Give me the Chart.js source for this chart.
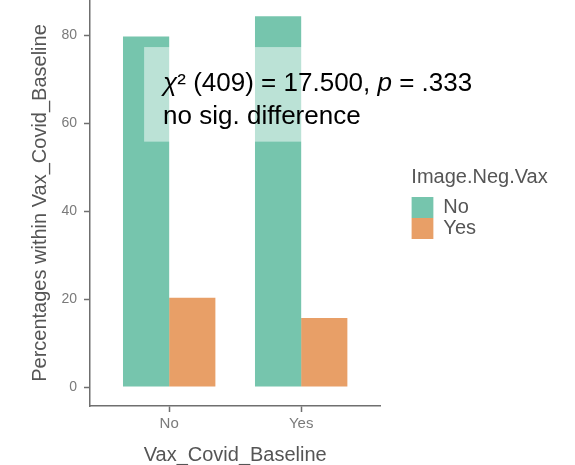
<!DOCTYPE html>
<html>
<head>
<meta charset="utf-8">
<script src="https://cdn.jsdelivr.net/npm/chart.js@4/dist/chart.umd.min.js"></script>
<style>
  html, body { margin: 0; padding: 0; background: #fff; }
  canvas { display: block; }
</style>
</head>
<body>
<canvas id="myChart" width="575" height="465"></canvas>
<script>
const categories = ['No', 'Yes'];
const seriesNames = ['No', 'Yes'];
const noValues = [79.7, 84.3];
const yesValues = [20.3, 15.7];
const yTicks = [0, 20, 40, 60, 80];
const xTitle = 'Vax_Covid_Baseline';
const yTitle = 'Percentages within Vax_Covid_Baseline';
const legendTitle = 'Image.Neg.Vax';
// [text, italic]
const statLine = [['χ', true], ['² (409) = 17.500, ', false], ['p', true], [' = .333', false]];
const noteLine = 'no sig. difference';

const FONT = '"Liberation Sans", Arial, sans-serif';
const AXIS = '#6f6f6f';

function toPoints(vals) {
  return vals.map((v, i) => ({ x: i + 1, y: v }));
}

// lighter box + test result, placed in data units
const annotation = {
  id: 'annotation',
  afterDatasetsDraw(chart) {
    const { ctx, scales: { x, y } } = chart;
    ctx.save();
    const x0 = x.getPixelForValue(0.81), x1 = x.getPixelForValue(2.006);
    const y0 = y.getPixelForValue(77.3), y1 = y.getPixelForValue(55.8);
    ctx.fillStyle = 'rgba(255,255,255,0.5)';
    ctx.fillRect(x0, y0, x1 - x0, y1 - y0);

    ctx.fillStyle = '#000';
    ctx.textBaseline = 'alphabetic';
    ctx.textAlign = 'left';
    const left = x.getPixelForValue(0.954);
    const base = y.getPixelForValue(67.4);
    let tx = left;
    statLine.forEach(([s, it]) => {
      ctx.font = (it ? 'italic ' : '') + '26px ' + FONT;
      ctx.fillText(s, tx, base);
      tx += ctx.measureText(s).width;
    });
    ctx.font = '26px ' + FONT;
    ctx.fillText(noteLine, left, base + 33.5);
    ctx.restore();
  }
};

// push the legend a bit away from the plot panel and let the title run to the edge
const legendShift = {
  id: 'legendShift',
  afterLayout(chart) {
    const lg = chart.legend;
    lg.left += 31;
    lg.right = chart.width;
    lg.width = lg.right - lg.left;
  }
};

const ctx = document.getElementById('myChart').getContext('2d');
new Chart(ctx, {
  type: 'bar',
  data: {
    datasets: [{
      label: seriesNames[0],
      data: toPoints(noValues),
      backgroundColor: 'rgba(27, 158, 119, 0.6)',
      borderWidth: 0
    }, {
      label: seriesNames[1],
      data: toPoints(yesValues),
      backgroundColor: 'rgba(217, 95, 2, 0.6)',
      borderWidth: 0
    }]
  },
  options: {
    responsive: false,
    animation: false,
    categoryPercentage: 0.7,
    barPercentage: 1.0,
    layout: { padding: { right: 120 } },
    scales: {
      x: {
        type: 'linear',
        min: 0.4,
        max: 2.6,
        offset: false,
        bounds: 'data',
        afterBuildTicks: s => { s.ticks = categories.map((c, i) => ({ value: i + 1 })); },
        afterFit: s => { s.height = 59; s.paddingLeft = 0; s.paddingRight = 0; },
        grid: { drawOnChartArea: false, offset: false, color: AXIS, tickLength: 6, tickWidth: 1.5 },
        border: { color: AXIS, width: 1.5 },
        ticks: {
          callback: v => categories[v - 1],
          color: '#7a7a7a',
          font: { family: FONT, size: 15 },
          padding: 3,
          maxRotation: 0
        },
        title: {
          display: true,
          text: xTitle,
          color: '#555',
          font: { family: FONT, size: 20, lineHeight: 1 },
          padding: { top: 0, bottom: 0 }
        }
      },
      y: {
        min: -4.3,
        max: 88,
        bounds: 'data',
        afterBuildTicks: s => { s.ticks = yTicks.map(v => ({ value: v })); },
        afterFit: s => { s.width = 90; s.paddingTop = 0; s.paddingBottom = 0; },
        grid: { drawOnChartArea: false, color: AXIS, tickLength: 6, tickWidth: 1.5 },
        border: { color: AXIS, width: 1.5 },
        ticks: {
          color: '#7a7a7a',
          font: { family: FONT, size: 14 },
          padding: 7
        },
        title: {
          display: true,
          text: yTitle,
          color: '#555',
          font: { family: FONT, size: 20 },
          padding: { top: 28, bottom: 0 }
        }
      }
    },
    plugins: {
      tooltip: { enabled: false },
      legend: {
        position: 'right',
        align: 'center',
        fullSize: false,
        title: {
          display: true,
          text: legendTitle,
          position: 'start',
          color: '#555',
          font: { family: FONT, size: 20 },
          padding: { top: 0, bottom: 6 }
        },
        labels: {
          boxWidth: 22,
          boxHeight: 21,
          padding: 0,
          color: '#555',
          font: { family: FONT, size: 20 }
        }
      }
    }
  },
  plugins: [annotation, legendShift]
});
</script>
</body>
</html>
